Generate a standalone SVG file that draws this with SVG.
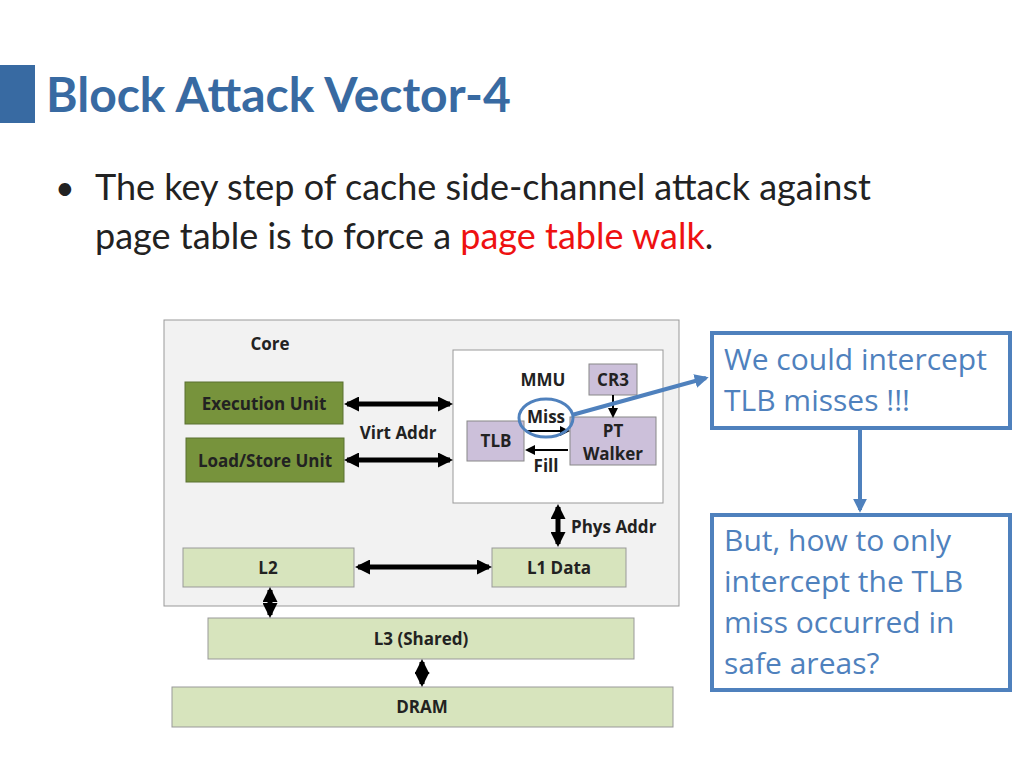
<svg xmlns="http://www.w3.org/2000/svg" width="1024" height="768" viewBox="0 0 1024 768">
<defs>
<marker id="ah" viewBox="0 0 10 10" refX="8" refY="5" markerWidth="3" markerHeight="3" orient="auto-start-reverse"><path d="M0,0L10,5L0,10z" fill="#000"/></marker>
<marker id="ab" viewBox="0 0 10 10" refX="8" refY="5" markerWidth="3.5" markerHeight="3.5" orient="auto"><path d="M0,0L10,5L0,10z" fill="#4f81bd"/></marker>
<marker id="as" viewBox="0 0 10 10" refX="8" refY="5" markerWidth="5" markerHeight="5" orient="auto"><path d="M0,0L10,5L0,10z" fill="#000"/></marker>
</defs>
<style>
text{font-family:"Open Sans","Liberation Sans",sans-serif}
text.h{font-family:Lato,"Liberation Sans",sans-serif}
.b{font-weight:bold;fill:#222;font-size:17px;text-anchor:middle}
.g{fill:#77933c;stroke:#5a7030;stroke-width:1}
.lg{fill:#d7e4bd;stroke:#999;stroke-width:1}
.p{fill:#ccc0da;stroke:#888;stroke-width:1}
.c{stroke:#000;stroke-width:5;fill:none}
.cb{fill:#fff;stroke:#4f81bd;stroke-width:4}
.ct{font-size:30px;fill:#4f81bd}
</style>
<rect width="1024" height="768" fill="#fff"/>
<rect x="0" y="65" width="35" height="58" fill="#386aa2"/>
<text class="h" x="46" y="112" font-size="48" font-weight="bold" fill="#386aa2">Block Attack Vector-4</text>
<text class="h" x="55" y="200" font-size="34" fill="#222">•</text>
<text class="h" x="95" y="200" font-size="36" fill="#222">The key step of cache side-channel attack against</text>
<text class="h" x="95" y="249" font-size="36" fill="#222">page table is to force a <tspan fill="#ee1111">page table walk</tspan>.</text>
<g id="core"><rect x="164" y="320" width="515" height="286" fill="#f2f2f2" stroke="#999"/><text x="270" y="350" class="b" font-size="20">Core</text></g>
<g id="mmu"><rect x="453" y="350" width="210" height="153" fill="#fff" stroke="#999"/><text x="543" y="386" class="b">MMU</text></g>
<g id="exec"><rect x="185" y="382" width="158" height="42" class="g"/><text x="264" y="410" class="b">Execution Unit</text></g>
<g id="ls"><rect x="186" y="438" width="158" height="44" class="g"/><text x="265" y="467" class="b">Load/Store Unit</text></g>
<g id="cr3"><rect x="589" y="364" width="48" height="31" class="p"/><text x="613" y="386" class="b">CR3</text></g>
<g id="tlb"><rect x="467" y="421" width="57" height="40" class="p"/><text x="496" y="447" class="b">TLB</text></g>
<g id="ptw"><rect x="570" y="417" width="86" height="48" class="p"/><text x="613" y="437" class="b">PT</text><text x="613" y="460" class="b">Walker</text></g>
<g id="l2"><rect x="183" y="548" width="171" height="39" class="lg"/><text x="268" y="574" class="b">L2</text></g>
<g id="l1"><rect x="492" y="548" width="134" height="39" class="lg"/><text x="559" y="574" class="b">L1 Data</text></g>
<g id="l3"><rect x="208" y="618" width="426" height="41" class="lg"/><text x="421" y="645" class="b">L3 (Shared)</text></g>
<g id="dram"><rect x="172" y="687" width="501" height="40" class="lg"/><text x="422" y="713" class="b">DRAM</text></g>
<g id="callout1"><rect x="712" y="333" width="298" height="95" class="cb"/><text x="724" y="370" class="ct">We could intercept</text><text x="724" y="411" class="ct">TLB misses !!!</text></g>
<g id="callout2"><rect x="712" y="515" width="298" height="175" class="cb"/><text x="724" y="551" class="ct">But, how to only</text><text x="724" y="592" class="ct">intercept the TLB</text><text x="724" y="633" class="ct">miss occurred in</text><text x="724" y="674" class="ct">safe areas?</text></g>
<g id="connectors">
<line x1="347" y1="404" x2="450" y2="404" class="c" marker-start="url(#ah)" marker-end="url(#ah)"/>
<line x1="347" y1="460" x2="450" y2="460" class="c" marker-start="url(#ah)" marker-end="url(#ah)"/>
<text x="398" y="439" class="b">Virt Addr</text>
<line x1="358" y1="567" x2="489" y2="567" class="c" marker-start="url(#ah)" marker-end="url(#ah)"/>
<line x1="558" y1="507" x2="558" y2="544" class="c" marker-start="url(#ah)" marker-end="url(#ah)"/>
<text x="571" y="533" font-size="17" font-weight="bold" fill="#222">Phys Addr</text>
<line x1="270" y1="590" x2="270" y2="615" class="c" marker-start="url(#ah)" marker-end="url(#ah)"/>
<line x1="422" y1="662" x2="422" y2="684" class="c" marker-start="url(#ah)" marker-end="url(#ah)"/>
<line x1="527" y1="431" x2="568" y2="431" stroke="#000" stroke-width="2" marker-end="url(#as)"/>
<line x1="568" y1="450" x2="527" y2="450" stroke="#000" stroke-width="2" marker-end="url(#as)"/>
<text x="546" y="423" class="b" font-size="13">Miss</text>
<text x="546" y="472" class="b" font-size="13">Fill</text>
<line x1="613" y1="395" x2="613" y2="416" stroke="#000" stroke-width="2" marker-end="url(#as)"/>
<ellipse cx="546" cy="418" rx="27" ry="19" fill="none" stroke="#4f81bd" stroke-width="3"/>
<line x1="572" y1="415" x2="706" y2="378" stroke="#4f81bd" stroke-width="4" marker-end="url(#ab)"/>
<line x1="860" y1="430" x2="860" y2="510" stroke="#4f81bd" stroke-width="4" marker-end="url(#ab)"/>
</g>
</svg>
